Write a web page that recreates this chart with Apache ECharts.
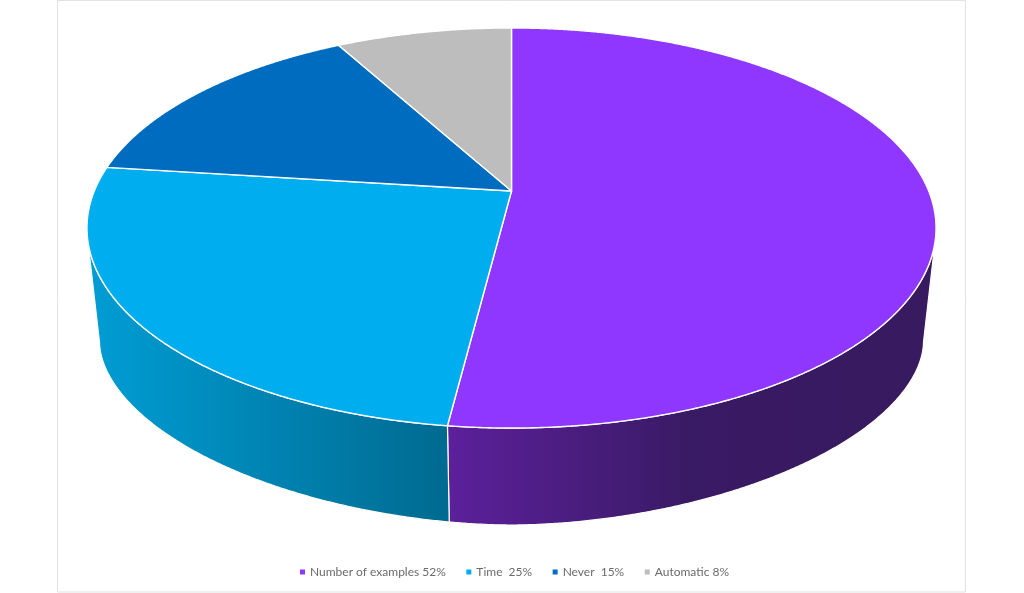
<!DOCTYPE html>
<html>
<head>
<meta charset="utf-8">
<style>html,body{margin:0;padding:0;background:#fff}#c{width:1024px;height:593px}</style>
<script src="https://cdn.jsdelivr.net/npm/echarts@6/dist/echarts.min.js"></script>
</head>
<body>
<div id="c"></div>
<script>
var categories = ['Number of examples 52%', 'Time  25%', 'Never  15%', 'Automatic 8%'];
var values = [52, 25, 15, 8];
var topColors = ['#8F37FF', '#00AEEF', '#006CBF', '#BDBDBD'];
var wallStops = [
  [[0, '#5C209B'], [0.5, '#391A64'], [1, '#371A5F']],
  [[0, '#009DD4'], [1, '#006A90']],
  null,
  null
];
var wallRanges = [[448, 936], [89, 450], null, null];

// perspective projection of the pie's disc
var CX = 511.5, TOP_Y = 191, A = 417.2, B = 193.2, K = 0.185;
var SHRINK = 0.968, BOTTOM_Y = 295.6;
var VANISH_Y = (BOTTOM_Y - SHRINK * TOP_Y) / (1 - SHRINK);
// outline of the underside of the disc
var LOW_RX = 412, LOW_RY = 183, LOW_CY = 342, LOW_P = 1.85;

function project(deg, y0, s) {
  var t = deg * Math.PI / 180, u = Math.sin(t), v = -Math.cos(t), w = 1 - K * v;
  return [CX + s * A * u / w, y0 + s * B * v / w];
}
function silhouetteAngle() {
  var best = 0, bestR = -1;
  for (var d = 0; d <= 180; d += 0.1) {
    var p = project(d, TOP_Y, 1), r = (p[0] - CX) / (VANISH_Y - p[1]);
    if (r > bestR) { bestR = r; best = d; }
  }
  return best;
}
var SIL = silhouetteAngle();
var SIL_DX = project(SIL, BOTTOM_Y, SHRINK)[0] - CX;

function projectLow(deg) {
  var dx = (project(deg, BOTTOM_Y, SHRINK)[0] - CX) / SIL_DX;
  var n = Math.min(1, Math.abs(dx));
  var dy = LOW_RY * Math.pow(1 - Math.pow(n, LOW_P), 1 / LOW_P);
  return [CX + dx * LOW_RX, LOW_CY + dy];
}
function projectTop(deg) { return project(deg, TOP_Y, 1); }

function arc(a0, a1, fn) {
  var pts = [], n = Math.max(1, Math.ceil(Math.abs(a1 - a0) / 0.25));
  for (var i = 0; i <= n; i++) pts.push(fn(a0 + (a1 - a0) * i / n));
  return pts;
}

function renderSlice(params, api) {
  var idx = params.seriesIndex;
  var a0 = api.value(0) * 3.6, a1 = api.value(1) * 3.6;
  var children = [];
  var wa0 = Math.max(a0, SIL), wa1 = Math.min(a1, 360 - SIL);
  if (wallStops[idx] && wa1 > wa0) {
    var wall = arc(wa0, wa1, projectTop).concat(arc(wa1, wa0, projectLow));
    var rng = wallRanges[idx];
    children.push({
      type: 'polygon', z2: 1,
      shape: { points: wall },
      style: {
        fill: new echarts.graphic.LinearGradient(rng[0], 0, rng[1], 0,
          wallStops[idx].map(function (s) { return { offset: s[0], color: s[1] }; }), true),
        stroke: '#ffffff', lineWidth: 1.2, lineJoin: 'round'
      }
    });
  }
  var top = [project(0, TOP_Y, 0)].concat(arc(a0, a1, projectTop));
  children.push({
    type: 'polygon', z2: 2,
    shape: { points: top },
    style: { fill: topColors[idx], stroke: '#ffffff', lineWidth: 1.4, lineJoin: 'round' }
  });
  return { type: 'group', children: children };
}

var cum = 0;
var series = categories.map(function (name, i) {
  var start = cum;
  cum += values[i];
  return {
    type: 'custom', name: name, coordinateSystem: 'none',
    itemStyle: { color: topColors[i] },
    renderItem: renderSlice,
    data: [[start, cum]],
    silent: true
  };
});

var chart = echarts.init(document.getElementById('c'), null, { renderer: 'canvas', width: 1024, height: 593 });
chart.setOption({
  animation: false,
  backgroundColor: '#ffffff',
  legend: {
    data: categories,
    left: 295, top: 561,
    icon: 'rect', itemWidth: 5, itemHeight: 5, itemGap: 20.5,
    textStyle: { color: '#6b6b6b', fontFamily: 'Lato', fontSize: 12 }
  },
  graphic: [{
    type: 'rect', silent: true, z: -1,
    shape: { x: 57.5, y: 0.5, width: 908, height: 591.5 },
    style: { fill: 'none', stroke: '#e2e2e2', lineWidth: 1 }
  }],
  series: series
});
</script>
</body>
</html>
